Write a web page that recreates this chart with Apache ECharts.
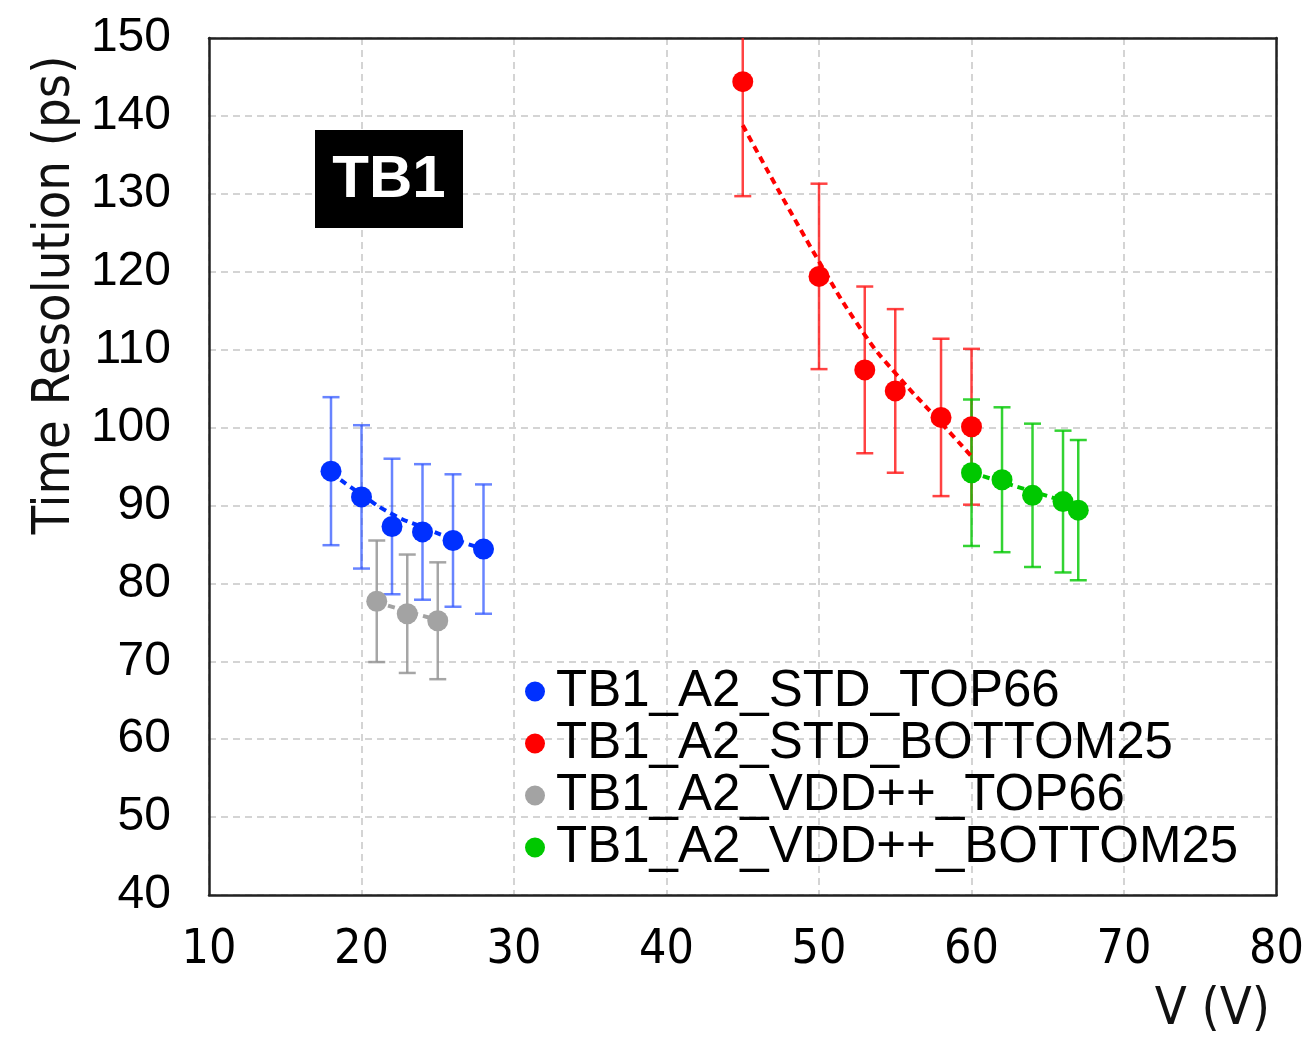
<!DOCTYPE html>
<html><head><meta charset="utf-8">
<script src="https://cdn.jsdelivr.net/npm/echarts@6/dist/echarts.min.js"></script>
<style>html,body{margin:0;padding:0;background:#fff}#c{width:1307px;height:1037px}</style>
</head><body><div id="c"></div>
<script>
// ---- data ----
const xTicks = [10,20,30,40,50,60,70,80];
const yTicks = [40,50,60,70,80,90,100,110,120,130,140,150];
const seriesNames = ['TB1_A2_STD_TOP66','TB1_A2_STD_BOTTOM25','TB1_A2_VDD++_TOP66','TB1_A2_VDD++_BOTTOM25'];

const blueX = [18,20,22,24,26,28];
const blueY = [94.4,91.1,87.3,86.6,85.5,84.4];
const blueErr = [9.5,9.2,8.7,8.7,8.5,8.3];
const blueFit = [94.2,91.4,88.9,87.2,85.7,84.4];

const redX = [45,50,53,55,58,60];
const redY = [144.4,119.4,107.4,104.7,101.3,100.1];
const redErr = [14.7,11.9,10.7,10.5,10.1,10.0];
const redFitX = [45,50,53,55,58,60];
const redFit = [138.8,121.3,111.9,107.0,100.6,96.3];

const grayX = [21,23,25];
const grayY = [77.7,76.1,75.2];
const grayErr = [7.8,7.6,7.5];
const grayFit = [77.6,76.4,75.3];

const greenX = [60,62,64,66,67];
const greenY = [94.2,93.3,91.3,90.5,89.4];
const greenErr = [9.4,9.3,9.2,9.1,9.0];
const greenFit = [94.2,93.0,91.8,90.6,90.0];

const colors = ['#0030ff','#ff0000','#a3a3a3','#00c800'];
const errColors = ['rgba(40,80,255,0.7)','rgba(255,20,20,0.8)','rgba(150,150,150,0.85)','rgba(0,200,0,0.8)'];

const zip3 = (xs, ys, es) => xs.map((x,i)=>[x, ys[i], es[i]]);
const zip2 = (xs, ys) => xs.map((x,i)=>[x, ys[i]]);

function errSeries(data, color) {
  return {
    type:'custom', clip:true, silent:true, z:2,
    data: data, encode:{x:0,y:1},
    renderItem: function(params, api){
      const x=api.value(0), y=api.value(1), e=api.value(2);
      const t=api.coord([x,y+e]), b=api.coord([x,y-e]);
      const hw=8.5;
      const st={stroke:color, lineWidth:2.5};
      return {type:'group', children:[
        {type:'line', shape:{x1:t[0],y1:t[1],x2:b[0],y2:b[1]}, style:st},
        {type:'line', shape:{x1:t[0]-hw,y1:t[1],x2:t[0]+hw,y2:t[1]}, style:st},
        {type:'line', shape:{x1:b[0]-hw,y1:b[1],x2:b[0]+hw,y2:b[1]}, style:st}
      ]};
    }
  };
}
function fitSeries(data, color) {
  return {type:'line', data:data, smooth:0.5, symbol:'none', silent:true, z:3,
    lineStyle:{color:color, width:4, type:[7,5]}};
}
function dotSeries(name, data, color) {
  return {type:'scatter', name:name, data:data, symbolSize:21, z:5,
    itemStyle:{color:color, opacity:1}};
}

const chart = echarts.init(document.getElementById('c'), null, {renderer:'canvas'});
const narrow = "'Liberation Sans Narrow','DejaVu Sans Condensed','Liberation Sans',sans-serif";
const frameLine = {show:true, onZero:false, lineStyle:{color:'#222', width:2.5}};
const gridSplit = {show:true, lineStyle:{color:'#d4d4d4', width:2, type:[7,5]}};
chart.setOption({
  animation:false,
  grid:{left:209, right:30, top:38, bottom:142, show:false},
  xAxis:[
    {type:'value', min:10, max:80, interval:10, position:'bottom',
      axisLine:frameLine, axisTick:{show:false},
      axisLabel:{fontFamily:narrow, fontSize:48, color:'#000', margin:32},
      splitLine:gridSplit},
    {type:'value', min:10, max:80, interval:10, position:'top',
      axisLine:frameLine, axisTick:{show:false}, axisLabel:{show:false}, splitLine:{show:false}}
  ],
  yAxis:[
    {type:'value', min:40, max:150, interval:10, position:'left',
      axisLine:frameLine, axisTick:{show:false},
      axisLabel:{fontFamily:"'Liberation Sans',Arial,sans-serif", fontSize:48, color:'#000', margin:38},
      splitLine:gridSplit},
    {type:'value', min:40, max:150, interval:10, position:'right',
      axisLine:frameLine, axisTick:{show:false}, axisLabel:{show:false}, splitLine:{show:false}}
  ],
  legend:{show:true, orient:'vertical', left:520, top:661, itemGap:1, itemWidth:20, itemHeight:20,
    icon:'circle', data:seriesNames,
    textStyle:{fontFamily:"'Liberation Sans',Arial,sans-serif", fontSize:51, color:'#000', padding:[0,0,0,6]}},
  graphic:[
    {type:'text', x:55, y:295, rotation:Math.PI/2, z:10,
      style:{text:'Time Resolution (ps)', fontFamily:narrow, fontSize:52, fill:'#111', textAlign:'center', textVerticalAlign:'middle'}},
    {type:'text', x:1270, y:1010, z:10,
      style:{text:'V (V)', fontFamily:narrow, fontSize:52, fill:'#111', textAlign:'right', textVerticalAlign:'middle'}},
    {type:'rect', shape:{x:315, y:130, width:148, height:98}, style:{fill:'#000'}, z:10},
    {type:'text', x:389, y:180, z:11,
      style:{text:'TB1', fontFamily:"'Liberation Sans',Arial,sans-serif", fontWeight:'bold', fontSize:60, fill:'#fff', textAlign:'center', textVerticalAlign:'middle'}}
  ],
  series:[
    errSeries(zip3(blueX,blueY,blueErr), errColors[0]),
    errSeries(zip3(redX,redY,redErr), errColors[1]),
    errSeries(zip3(grayX,grayY,grayErr), errColors[2]),
    errSeries(zip3(greenX,greenY,greenErr), errColors[3]),
    fitSeries(zip2(blueX,blueFit), colors[0]),
    fitSeries(zip2(redFitX,redFit), colors[1]),
    fitSeries(zip2(grayX,grayFit), colors[2]),
    fitSeries(zip2(greenX,greenFit), colors[3]),
    dotSeries(seriesNames[0], zip2(blueX,blueY), colors[0]),
    dotSeries(seriesNames[1], zip2(redX,redY), colors[1]),
    dotSeries(seriesNames[2], zip2(grayX,grayY), colors[2]),
    dotSeries(seriesNames[3], zip2(greenX,greenY), colors[3])
  ]
});
</script></body></html>
